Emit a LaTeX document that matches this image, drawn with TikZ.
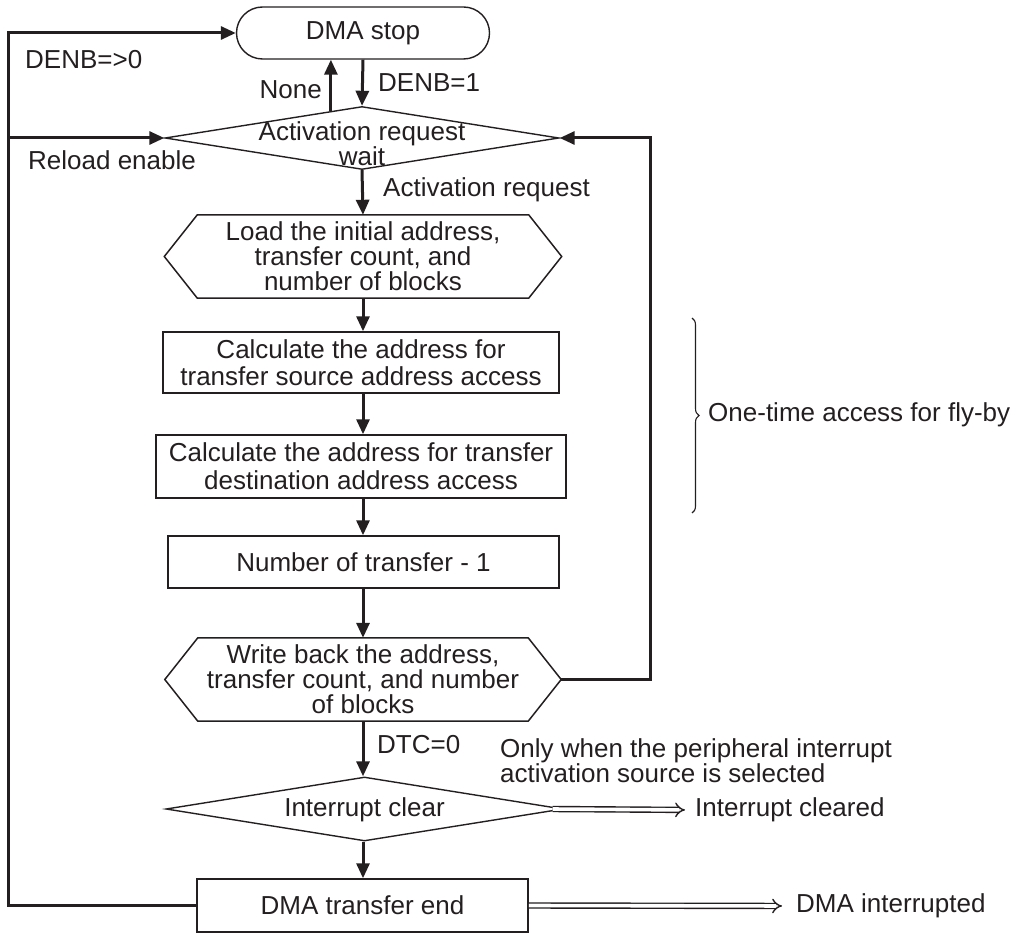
\documentclass[tikz,border=0pt]{standalone}
\usepackage{fontspec}
\setmainfont{Liberation Sans}
\usetikzlibrary{shapes.geometric,shapes.misc,arrows.meta,calc,decorations.pathreplacing}
\definecolor{ink}{RGB}{35,31,32}
\begin{document}
\begin{tikzpicture}[x=1pt,y=-1pt,
  font=\fontsize{26}{26}\selectfont,
  boxst/.style={draw=ink, line width=1.5pt, rectangle, inner sep=0pt, align=center, text=ink},
  hexst/.style={rectangle, inner sep=0pt, align=center, text=ink},
  hexline/.style={draw=ink, line width=1.5pt, line join=miter},
  dia/.style={draw=ink, line width=1.4pt, diamond, inner sep=0pt},
  stopst/.style={draw=ink, line width=1.4pt, rounded rectangle, inner sep=0pt, text=ink},
  conn/.style={draw=ink, line width=3pt, -{Triangle[length=15pt,width=13pt]}},
  hollow/.style={draw=ink, line width=1.4pt, double, double distance=3.6pt, -{Implies}},
  lbl/.style={inner sep=0pt, text=ink},
  txt/.style={inner sep=0pt, text=ink, align=center}
]
\useasboundingbox (0,0) rectangle (1022,933);

% nodes
\node[stopst, minimum width=253pt, minimum height=52pt] (stop) at (363,33) {DMA stop};
\node[dia, minimum width=394pt, minimum height=63pt] (d1) at (362,138) {};
\node[txt, font=\fontsize{26}{24}\selectfont] (d1t) at (362,144) {Activation request\\wait};

\node[hexst, minimum width=397pt, minimum height=83pt, font=\fontsize{26}{25}\selectfont] (hexA) at (363,256.5)
  {Load the initial address,\\transfer count, and\\number of blocks};
\draw[hexline] (hexA.west) -- ([xshift=33pt]hexA.north west) -- ([xshift=-33pt]hexA.north east)
  -- (hexA.east) -- ([xshift=-33pt]hexA.south east) -- ([xshift=33pt]hexA.south west) -- cycle;

\node[boxst, minimum width=396pt, minimum height=61pt, font=\fontsize{26}{27}\selectfont] (b1) at (361,362.5)
  {Calculate the address for\\transfer source address access};
\node[boxst, minimum width=410pt, minimum height=63pt, font=\fontsize{26}{28}\selectfont] (b2) at (361,466.5)
  {Calculate the address for transfer\\destination address access};
\node[boxst, minimum width=391pt, minimum height=52pt] (b3) at (363.5,562) {Number of transfer - 1};

\node[hexst, minimum width=396pt, minimum height=83pt, font=\fontsize{26}{25}\selectfont] (hexB) at (363,679.5)
  {Write back the address,\\transfer count, and number\\of blocks};
\draw[hexline] (hexB.west) -- ([xshift=33pt]hexB.north west) -- ([xshift=-33pt]hexB.north east)
  -- (hexB.east) -- ([xshift=-33pt]hexB.south east) -- ([xshift=33pt]hexB.south west) -- cycle;

\node[dia, minimum width=397pt, minimum height=64pt] (d2) at (364.5,809) {};
\node[txt] (d2t) at (364.5,810) {Interrupt clear};

\node[boxst, minimum width=331pt, minimum height=53pt] (endb) at (362.5,905.5) {DMA transfer end};

% labels
\node[lbl, anchor=west] (denb0) at (25,60) {DENB=>0};
\node[lbl, anchor=east] (none) at (322,90) {None};
\node[lbl, anchor=west] (denb1) at (378,83) {DENB=1};
\node[lbl, anchor=west] (reload) at (28,160) {Reload enable};
\node[lbl, anchor=west] (actreq) at (383,190) {Activation request};
\node[lbl, anchor=west] (dtc) at (377,745) {DTC=0};
\node[lbl, anchor=west, align=left, font=\fontsize{26}{23}\selectfont] (only) at (500,761)
  {Only when the peripheral interrupt\\activation source is selected};
\node[lbl, anchor=west] (icl) at (695,810) {Interrupt cleared};
\node[lbl, anchor=west] (dmai) at (796,906) {DMA interrupted};
\node[lbl, anchor=west] (fly) at (708,415) {One-time access for fly-by};

% helper coordinates
\coordinate (leftx) at (8,0);
\coordinate (rightx) at (650,0);
\coordinate (nonestart) at ($(d1.north)!31/197!(d1.west)$);
\coordinate (bt) at (692,318);
\coordinate (bb) at (692,513);

% main flow
\draw[conn] (stop.south) -- (d1.north);
\draw[conn] (nonestart) -- (nonestart |- stop.south);
\draw[conn] (d1.south) -- (hexA.north);
\draw[conn] (hexA.south) -- (b1.north -| hexA.south);
\draw[conn] (b1.south -| hexA.south) -- (b2.north -| hexA.south);
\draw[conn] (b2.south -| hexA.south) -- (b3.north -| hexA.south);
\draw[conn] (b3.south -| hexA.south) -- (hexB.north);
\draw[conn] (hexB.south) -- (d2.north -| hexB.south);
\draw[conn] (d2.south -| hexB.south) -- (endb.north -| hexB.south);

% loops
\draw[conn] (hexB.east) -- (hexB.east -| rightx) |- (d1.east);
\draw[conn] (endb.west) -- (endb.west -| leftx) |- (stop.west);
\draw[conn] (d1.west -| leftx) -- (d1.west);

% hollow arrows
\draw[hollow, shorten >=10pt] ([xshift=-11pt]d2.east) -- (icl.west);
\draw[hollow, shorten >=14pt] (endb.east) -- (dmai.west);

% brace
\draw[ink, line width=1.1pt, decorate, decoration={brace, amplitude=7pt}] (bt) -- (bb);
\end{tikzpicture}
\end{document}
